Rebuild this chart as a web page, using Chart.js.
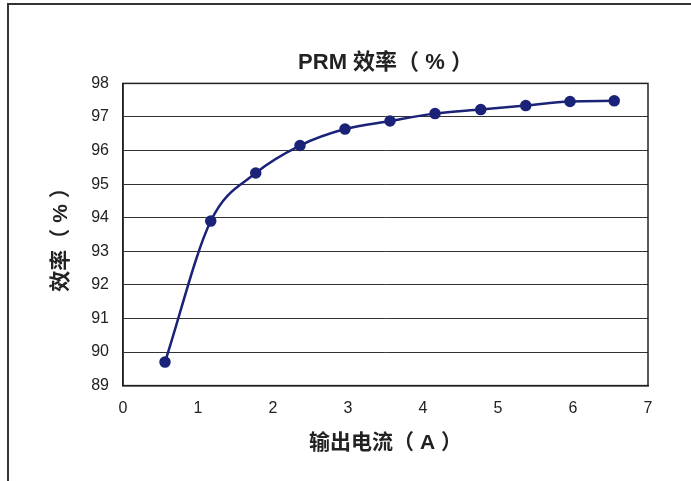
<!DOCTYPE html>
<html lang="zh-cn">
<head>
    <meta charset="UTF-8">
    <title>PRM 效率</title>
    <script src="https://cdn.jsdelivr.net/npm/chart.js"></script>
    <style>
        body { margin: 0; background: #fff; }
        .box { width: 691px; height: 481px; }
    </style>
</head>
<body>
    <div class="box">
        <canvas id="myChart" width="691" height="481"></canvas>
    </div>
</body>
</html>

<script>
    // dados
    const correnteA = [0.56, 1.17, 1.77, 2.36, 2.96, 3.56, 4.16, 4.77, 5.37, 5.96, 6.55];
    const eficiencia = [89.70, 93.90, 95.33, 96.15, 96.64, 96.88, 97.10, 97.22, 97.34, 97.46, 97.48];
    const ticksX = [0, 1, 2, 3, 4, 5, 6, 7];
    const ticksY = [89, 90, 91, 92, 93, 94, 95, 96, 97, 98];

    const fonte = '"Liberation Sans", "Noto Sans CJK SC", sans-serif';
    const azul = '#1b2378';

    let pontos = [];
    for (let i = 0; i < correnteA.length; i++) {
        pontos.push({ x: correnteA[i], y: eficiencia[i] });
    }

    // moldura da figura + borda da área do gráfico
    const moldura = {
        id: 'moldura',
        beforeDatasetsDraw(chart) {
            const ctx = chart.ctx;
            const a = chart.chartArea;
            ctx.save();
            ctx.strokeStyle = '#333';
            ctx.lineWidth = 2;
            ctx.beginPath();
            ctx.moveTo(8, 481);
            ctx.lineTo(8, 4);
            ctx.lineTo(691, 4);
            ctx.stroke();
            ctx.lineWidth = 1.5;
            ctx.strokeStyle = '#222';
            ctx.strokeRect(a.left, a.top, a.right - a.left, a.bottom - a.top);
            ctx.restore();
        }
    };

    const config = {
        type: 'scatter',
        data: {
            datasets: [{
                label: '效率',
                data: pontos,
                showLine: true,
                borderColor: azul,
                backgroundColor: azul,
                borderWidth: 2.5,
                pointRadius: 4.5,
                pointHoverRadius: 4.5,
                cubicInterpolationMode: 'monotone'
            }]
        },
        options: {
            responsive: false,
            animation: false,
            layout: { padding: { left: 42, right: 43, top: 50, bottom: 25 } },
            plugins: {
                legend: { display: false },
                tooltip: { enabled: false },
                title: {
                    display: true,
                    fullSize: false,
                    text: 'PRM 效率（ % ）',
                    color: '#222',
                    font: { family: fonte, size: 22, weight: 'bold' },
                    padding: { top: 0, bottom: 7 }
                }
            },
            scales: {
                x: {
                    type: 'linear',
                    min: 0,
                    max: 7,
                    afterBuildTicks(scale) {
                        scale.ticks = ticksX.map(v => ({ value: v }));
                    },
                    grid: { display: false, drawTicks: false },
                    border: { display: true, color: '#222', width: 1.5 },
                    ticks: { color: '#222', padding: 13, font: { family: fonte, size: 16 } },
                    title: {
                        display: true,
                        text: '输出电流（ A ）',
                        color: '#222',
                        font: { family: fonte, size: 21, weight: 'bold' },
                        padding: { top: 0, bottom: 0 }
                    }
                },
                y: {
                    min: 89,
                    max: 98,
                    afterBuildTicks(scale) {
                        scale.ticks = ticksY.map(v => ({ value: v }));
                    },
                    afterFit(scale) { scale.width = 81; },
                    grid: { color: '#333', lineWidth: 1, drawTicks: false },
                    border: { display: true, color: '#222', width: 1.5 },
                    ticks: { color: '#222', padding: 14, font: { family: fonte, size: 16 } },
                    title: {
                        display: true,
                        text: '效率（ % ）',
                        color: '#222',
                        font: { family: fonte, size: 21, weight: 'bold' },
                        padding: { top: 7, bottom: 0 }
                    }
                }
            }
        },
        plugins: [moldura]
    };

    let myChart = new Chart(document.getElementById('myChart'), config);
</script>
